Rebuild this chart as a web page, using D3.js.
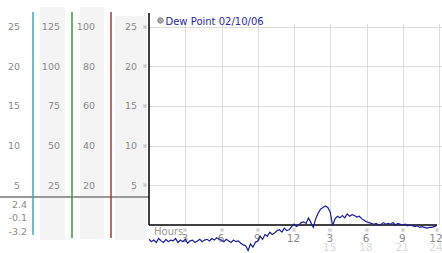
<!DOCTYPE html>
<html lang="en">
<head>
  <meta charset="utf-8">
  <title>Dew Point</title>
  <script src="https://cdn.jsdelivr.net/npm/d3@7"></script>
  <style>
    body { margin: 0; background: #fff; }
    text { font-family: "DejaVu Sans", Verdana, sans-serif; }
  </style>
</head>
<body>
<script>
  // chart data
  var stepHours = 0.2;
  var dewPoint = [
    -1.8,-2.1,-1.9,-2.2,-1.7,-2.0,-2.2,-1.8,-2.1,-1.9,
    -2.0,-1.7,-2.2,-1.9,-2.1,-1.8,-2.3,-2.0,-1.9,-2.2,
    -2.0,-1.8,-2.1,-1.9,-1.8,-2.0,-1.7,-1.9,-1.6,-1.8,
    -1.9,-2.1,-1.8,-2.0,-2.2,-1.9,-2.1,-2.0,-2.3,-2.5,
    -2.6,-3.2,-2.4,-2.8,-2.2,-2.0,-1.4,-1.8,-1.2,-1.4,
    -0.9,-1.2,-1.0,-0.7,-0.6,-0.9,-0.4,-0.7,-0.6,-0.2,
     0.1,-0.2, 0.0, 0.3, 0.4, 0.2, 0.9, 0.3,-0.3, 0.8,
     1.5, 2.0, 2.2, 2.4, 2.2, 1.6,-0.1, 0.8, 1.1, 0.9,
     1.2, 0.9, 1.4, 1.1, 1.3, 1.2, 1.0, 1.1, 0.8, 0.6,
     0.4, 0.3, 0.2, 0.1, 0.2, 0.0, 0.1, 0.3, 0.1, 0.2,
     0.1, 0.3, 0.0, 0.2, 0.1, 0.0, 0.1,-0.1, 0.0,-0.1,
    -0.2,-0.1,-0.3,-0.2,-0.3,-0.4,-0.3,-0.3,-0.2,-0.1
  ];
  var mainTicks = [25, 20, 15, 10, 5];
  var col1Labels = ["25", "20", "15", "10", "5"];
  var col2Labels = ["125", "100", "75", "50", "25"];
  var col3Labels = ["100", "80", "60", "40", "20"];
  var col4Labels = ["25", "20", "15", "10", "5"];
  var statLabels = ["2.4", "-0.1", "-3.2"];
  var hourTicks = [3, 6, 9, 12, 15, 18, 21, 24];
  var hourLabels = ["3", "6", "9", "12", "3", "6", "9", "12"];
  var hourLabels2 = ["", "", "", "", "15", "18", "21", "24"];
  var legendText = "Dew Point 02/10/06";

  var width = 442;
  var height = 253;

  var svg = d3.select("body")
    .append("svg")
    .attr("width", width)
    .attr("height", height);

  var x = d3.scaleLinear().domain([0, 24]).range([149, 439]);
  var y = d3.scaleLinear().domain([0, 25]).range([225, 26.5]);

  // left side panels
  var panels = [
    { x0: 40, x1: 65, top: 7, bottom: 240 },
    { x0: 80, x1: 104, top: 7, bottom: 239 },
    { x0: 115, x1: 147, top: 16, bottom: 240 }
  ];
  svg.append("g").selectAll("rect")
    .data(panels)
    .enter()
    .append("rect")
    .attr("x", function(d) { return d.x0; })
    .attr("y", function(d) { return d.top; })
    .attr("width", function(d) { return d.x1 - d.x0; })
    .attr("height", function(d) { return d.bottom - d.top; })
    .attr("fill", "#f4f4f4");

  // gray separator
  svg.append("line")
    .attr("x1", 0).attr("x2", 149)
    .attr("y1", 197).attr("y2", 197)
    .attr("stroke", "#999")
    .attr("stroke-width", 2);

  var sideLines = [
    { x: 33, color: "#3aaac4", top: 12, bottom: 235 },
    { x: 72, color: "#3a9a3a", top: 12, bottom: 238 },
    { x: 111, color: "#a83a3a", top: 12, bottom: 238 }
  ];
  svg.append("g").selectAll("line")
    .data(sideLines)
    .enter()
    .append("line")
    .attr("x1", function(d) { return d.x; })
    .attr("x2", function(d) { return d.x; })
    .attr("y1", function(d) { return d.top; })
    .attr("y2", function(d) { return d.bottom; })
    .attr("stroke", function(d) { return d.color; })
    .attr("stroke-width", 1.5);

  // column labels
  var cols = [
    { right: 20, labels: col1Labels },
    { right: 60, labels: col2Labels },
    { right: 95, labels: col3Labels },
    { right: 137, labels: col4Labels }
  ];
  cols.forEach(function(c) {
    svg.append("g").selectAll("text")
      .data(mainTicks)
      .enter()
      .append("text")
      .attr("x", c.right)
      .attr("y", function(d) { return y(d) + 3.5; })
      .attr("text-anchor", "end")
      .attr("font-size", "9.5px")
      .attr("fill", "#8a8a8a")
      .text(function(d, i) { return c.labels[i]; });
  });

  svg.append("g").selectAll("text")
    .data(statLabels)
    .enter()
    .append("text")
    .attr("x", 27)
    .attr("y", function(d, i) { return [208, 221, 235][i]; })
    .attr("text-anchor", "end")
    .attr("font-size", "9.5px")
    .attr("fill", "#8a8a8a")
    .text(function(d) { return d; });

  // grid
  var grid = svg.append("g").attr("stroke", "#dcdcdc").attr("stroke-width", 1);
  grid.selectAll("line.h")
    .data(mainTicks)
    .enter()
    .append("line")
    .attr("class", "h")
    .attr("x1", 149).attr("x2", width)
    .attr("y1", function(d) { return Math.round(y(d)) + 0.5; })
    .attr("y2", function(d) { return Math.round(y(d)) + 0.5; });
  grid.selectAll("line.v")
    .data(hourTicks)
    .enter()
    .append("line")
    .attr("class", "v")
    .attr("x1", function(d) { return Math.round(x(d)) + 0.5; })
    .attr("x2", function(d) { return Math.round(x(d)) + 0.5; })
    .attr("y1", 24).attr("y2", 225);

  // small hatched tick marks
  function mark(g, cx, cy) {
    [[0, 0], [2, 0], [1, 1], [0, 2], [2, 2]].forEach(function(p) {
      g.append("rect")
        .attr("x", cx - 1.5 + p[0])
        .attr("y", cy - 1.5 + p[1])
        .attr("width", 1).attr("height", 1)
        .attr("fill", "#999");
    });
  }
  var marks = svg.append("g");
  mainTicks.forEach(function(d) { mark(marks, 145, Math.round(y(d))); });
  hourTicks.forEach(function(d) { mark(marks, Math.min(Math.round(x(d)), 437), 230); });

  // axes
  svg.append("line")
    .attr("x1", 149).attr("x2", 149)
    .attr("y1", 13).attr("y2", 225)
    .attr("stroke", "#000").attr("stroke-width", 1.5);
  svg.append("line")
    .attr("x1", 149).attr("x2", 437)
    .attr("y1", 225).attr("y2", 225)
    .attr("stroke", "#000").attr("stroke-width", 1.5);

  // hour labels
  svg.append("text")
    .attr("x", 154).attr("y", 235)
    .attr("font-size", "10px")
    .attr("fill", "#999")
    .text("Hours");
  svg.append("g").selectAll("text")
    .data(hourTicks)
    .enter()
    .append("text")
    .attr("x", function(d) { return Math.min(x(d) - 0.5, 436); })
    .attr("y", 242)
    .attr("text-anchor", "middle")
    .attr("font-size", "10.5px")
    .attr("fill", "#8a8a8a")
    .text(function(d, i) { return hourLabels[i]; });
  svg.append("g").selectAll("text")
    .data(hourTicks)
    .enter()
    .append("text")
    .attr("x", function(d) { return Math.min(x(d) - 0.5, 436); })
    .attr("y", 251)
    .attr("text-anchor", "middle")
    .attr("font-size", "10.5px")
    .attr("fill", "#dadada")
    .text(function(d, i) { return hourLabels2[i]; });

  // legend
  svg.append("circle")
    .attr("cx", 160.5).attr("cy", 20.5).attr("r", 2.8)
    .attr("fill", "#aaa").attr("stroke", "#777").attr("stroke-width", 0.8);
  svg.append("text")
    .attr("x", 165.5).attr("y", 24.5)
    .attr("font-size", "10px")
    .attr("fill", "#2a2aa8")
    .text(legendText);

  // dew point line
  var line = d3.line()
    .x(function(d, i) { return x(i * stepHours); })
    .y(function(d) { return y(d); });
  svg.append("path")
    .datum(dewPoint)
    .attr("fill", "none")
    .attr("stroke", "#1c1c9c")
    .attr("stroke-width", 1.2)
    .attr("d", line);
</script>
</body>
</html>
